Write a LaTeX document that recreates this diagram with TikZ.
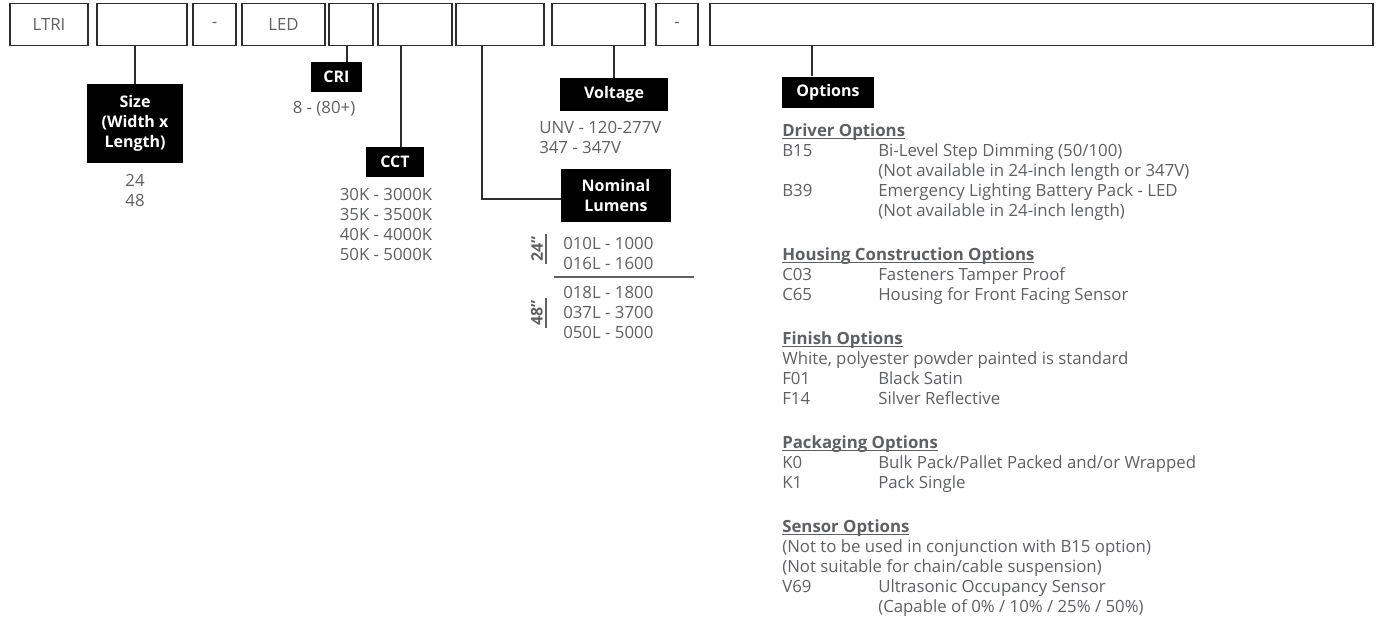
\documentclass[tikz,border=0pt]{standalone}
\usepackage{fontspec}
\setmainfont{Open Sans}
\definecolor{valgray}{HTML}{5F6063}
\definecolor{boxline}{HTML}{2E2E2E}
\newcommand{\pxu}{0.75pt}
\newcommand{\valfont}{\fontsize{12.6}{15}\selectfont}
\newcommand{\lblfont}{\fontsize{12}{15}\selectfont\bfseries}
\newcommand{\ulhead}[1]{\setbox0\hbox{\bfseries #1}\rlap{\rule[-2pt]{\wd0}{0.8pt}}\box0}
\tikzset{
    partbox/.style={draw=boxline, line width=1.2pt, minimum width=#1, minimum height=42*\pxu, inner sep=0pt, text=valgray, font=\valfont},
    lblbox/.style={fill=black, text=white, font=\lblfont, inner sep=0pt, align=center},
    valtxt/.style={text=valgray, font=\valfont, inner sep=0pt},
    wire/.style={draw=boxline, line width=1pt}
}
\begin{document}
\begin{tikzpicture}[x=0.75pt,y=-0.75pt]
        \useasboundingbox (0,0) rectangle (1381,619);
        %% catalog number boxes
        \node[partbox=78*\pxu] (ltri) at (49,24.5) {LTRI};
        \node[partbox=90*\pxu] (size) at (142,24.5) {};
        \node[partbox=43*\pxu] (dashA) at (214.5,24.5) {-};
        \node[partbox=83*\pxu] (led) at (283.5,24.5) {LED};
        \node[partbox=44*\pxu] (cri) at (351,24.5) {};
        \node[partbox=74*\pxu] (cct) at (415,24.5) {};
        \node[partbox=88*\pxu] (lumens) at (500,24.5) {};
        \node[partbox=93*\pxu] (volt) at (598.5,24.5) {};
        \node[partbox=42*\pxu] (dashB) at (677,24.5) {-};
        \node[partbox=663*\pxu] (opts) at (1041.5,24.5) {};
        %% black labels
        \node[lblbox, minimum width=96*\pxu, minimum height=79*\pxu] (sizelbl) at (135,123.5) {Size\\(Width x\\Length)};
        \node[lblbox, minimum width=51*\pxu, minimum height=30*\pxu] (crilbl) at (336.5,77) {CRI};
        \node[lblbox, minimum width=58*\pxu, minimum height=30*\pxu] (cctlbl) at (395,162) {CCT};
        \node[lblbox, minimum width=108*\pxu, minimum height=33*\pxu] (voltlbl) at (614,94.5) {Voltage};
        \node[lblbox, minimum width=110*\pxu, minimum height=53*\pxu] (lumlbl) at (616,195.5) {Nominal\\Lumens};
        \node[lblbox, minimum width=92*\pxu, minimum height=31*\pxu] (optlbl) at (828,92) {Options};
        %% connectors
        \coordinate (crijoin) at ([xshift=10.5*\pxu]crilbl.north);
        \coordinate (cctjoin) at ([xshift=6*\pxu]cctlbl.north);
        \coordinate (lumjoin) at ([yshift=-3.4*\pxu]lumlbl.west);
        \coordinate (optjoin) at ([xshift=-16*\pxu]optlbl.north);
        \draw[wire] (size.south -| sizelbl.north) -- (sizelbl.north);
        \draw[wire] (cri.south -| crijoin) -- (crijoin);
        \draw[wire] (cct.south -| cctjoin) -- (cctjoin);
        \draw[wire] ([xshift=-18*\pxu]lumens.south) |- (lumjoin);
        \draw[wire] (volt.south -| voltlbl.north) -- (voltlbl.north);
        \draw[wire] (opts.south -| optjoin) -- (optjoin);
        %% values
        \node[valtxt, align=center] (sizeval) at (135,190) {24\\48};
        \node[valtxt] (crival) at (324,109) {8 - (80+)};
        \node[valtxt, align=center] (cctval) at (386,224) {30K - 3000K\\35K - 3500K\\40K - 4000K\\50K - 5000K};
        \node[valtxt, align=left, anchor=west] (voltval) at (539,137.5) {UNV - 120-277V\\347 - 347V};
        \node[valtxt, align=left, anchor=west] (lumA) at (563,253) {010L - 1000\\016L - 1600};
        \node[valtxt, align=left, anchor=west] (lumB) at (563,312) {018L - 1800\\037L - 3700\\050L - 5000};
        \draw[valgray, line width=1pt] (554,277) -- (694,277);
        \node[valtxt, font=\lblfont, rotate=90] (len24) at (537,249) {24”};
        \node[valtxt, font=\lblfont, rotate=90] (len48) at (537,313) {48”};
        \draw[valgray, line width=0.8pt] (546,234) -- (546,264);
        \draw[valgray, line width=0.8pt] (546,298) -- (546,328);
        %% option lists
        \node[valtxt, anchor=north west] (drvopt) at (782,122) {\begin{tabular}{@{}p{72pt}@{}l@{}}
            \multicolumn{2}{@{}l@{}}{\ulhead{Driver Options}}\\
            B15 & Bi-Level Step Dimming (50/100)\\
             & (Not available in 24-inch length or 347V)\\
            B39 & Emergency Lighting Battery Pack - LED\\
             & (Not available in 24-inch length)
        \end{tabular}};
        \node[valtxt, anchor=north west] (housopt) at (782,246) {\begin{tabular}{@{}p{72pt}@{}l@{}}
            \multicolumn{2}{@{}l@{}}{\ulhead{Housing Construction Options}}\\
            C03 & Fasteners Tamper Proof\\
            C65 & Housing for Front Facing Sensor
        \end{tabular}};
        \node[valtxt, anchor=north west] (finopt) at (782,330) {\begin{tabular}{@{}p{72pt}@{}l@{}}
            \multicolumn{2}{@{}l@{}}{\ulhead{Finish Options}}\\
            \multicolumn{2}{@{}l@{}}{White, polyester powder painted is standard}\\
            F01 & Black Satin\\
            F14 & Silver Reflective
        \end{tabular}};
        \node[valtxt, anchor=north west] (packopt) at (782,434) {\begin{tabular}{@{}p{72pt}@{}l@{}}
            \multicolumn{2}{@{}l@{}}{\ulhead{Packaging Options}}\\
            K0 & Bulk Pack/Pallet Packed and/or Wrapped\\
            K1 & Pack Single
        \end{tabular}};
        \node[valtxt, anchor=north west] (sensopt) at (782,518) {\begin{tabular}{@{}p{72pt}@{}l@{}}
            \multicolumn{2}{@{}l@{}}{\ulhead{Sensor Options}}\\
            \multicolumn{2}{@{}l@{}}{(Not to be used in conjunction with B15 option)}\\
            \multicolumn{2}{@{}l@{}}{(Not suitable for chain/cable suspension)}\\
            V69 & Ultrasonic Occupancy Sensor\\
             & (Capable of 0\% / 10\% / 25\% / 50\%)
        \end{tabular}};
    \end{tikzpicture}
\end{document}
